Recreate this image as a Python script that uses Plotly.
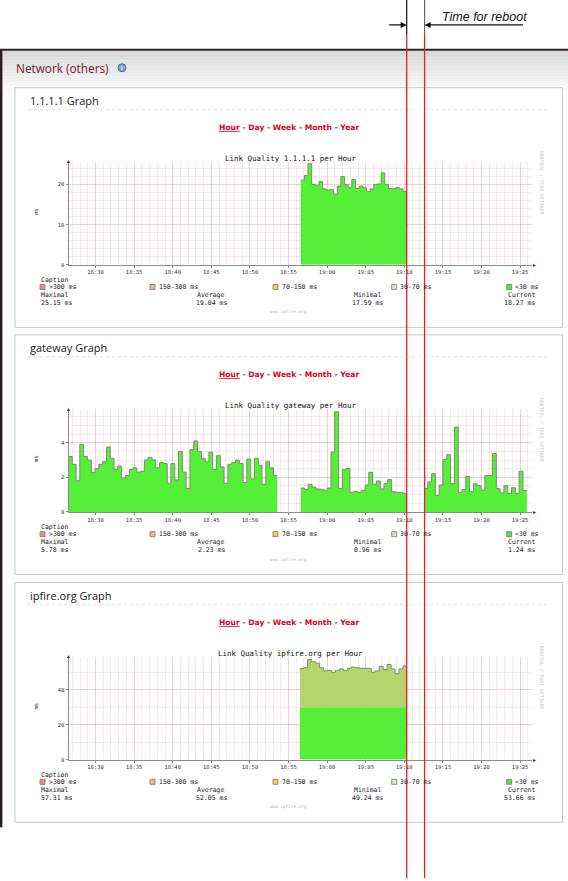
import plotly.graph_objects as go
import pandas as pd

W, H = 568, 881
DAY = "2024-01-01 "

# ---------------- data ----------------
hosts = ["1.1.1.1", "gateway", "ipfire.org"]
x_window = ["18:26:30", "19:26:30"]

# 1.1.1.1 (ms)
p1_span = ["18:56:35", "19:10:19"]
p1_values = [21.1, 22.2, 25.15, 20.0, 19.8, 20.7, 18.9, 18.6, 18.7, 17.59,
             19.6, 22.0, 20.0, 19.2, 21.2, 19.0, 19.6, 19.2, 18.2, 18.9,
             20.0, 20.1, 22.9, 20.0, 19.0, 18.9, 19.2, 18.9, 18.27]

# gateway (ms) - three segments separated by gaps
gw1_span = ["18:26:30", "18:53:33"]
gw1_values = [3.2, 2.75, 1.8, 3.9, 3.2, 3.0, 2.27, 2.5, 2.75, 2.9,
              3.75, 3.1, 2.45, 2.65, 1.95, 2.1, 2.45, 2.55, 2.3, 2.35,
              3.0, 3.15, 3.0, 2.55, 2.85, 2.8, 1.65, 2.8, 1.85, 3.5,
              2.3, 1.35, 3.6, 4.1, 3.5, 3.1, 2.9, 3.45, 2.45, 3.25,
              2.6, 1.65, 2.75, 2.85, 3.0, 2.8, 1.7, 3.05, 1.9, 3.1,
              2.7, 1.6, 2.9, 2.55, 2.1]
gw2_span = ["18:56:35", "19:10:19"]
gw2_values = [1.38, 1.29, 1.6, 1.44, 1.33, 1.31, 1.25, 1.38, 3.46, 5.78,
              1.35, 2.44, 2.52, 1.13, 1.19, 1.13, 1.25, 1.56, 2.29, 1.6,
              1.79, 1.33, 1.63, 1.87, 1.17, 1.13, 1.13, 1.08]
gw3_span = ["19:12:33", "19:25:52"]
gw3_values = [1.35, 1.73, 2.21, 0.96, 1.56, 3.02, 3.31, 1.63, 4.9, 1.13,
              1.29, 2.06, 1.17, 1.62, 1.52, 1.25, 2.1, 2.1, 3.37, 1.35,
              1.1, 1.52, 1.06, 1.4, 1.06, 2.35, 1.24]

# ipfire.org (ms)
ip_span = ["18:56:28", "19:10:21"]
ip_values = [52.1, 52.6, 57.31, 56.0, 55.3, 52.6, 50.8, 51.1, 50.0, 51.1,
             51.9, 51.1, 52.3, 53.0, 52.6, 52.3, 52.3, 52.3, 50.0, 50.8,
             53.4, 51.5, 54.5, 51.9, 49.24, 51.9, 53.66]
band_limit = 30  # "<30 ms" band

# statistics shown under each graph
max_vals = ["25.15", "5.78", "57.31"]
avg_vals = ["19.04", "2.23", "52.05"]
min_vals = ["17.59", "0.96", "49.24"]
cur_vals = ["18.27", "1.24", "53.66"]

# axis setup per graph
y_max = [25.6, 5.94, 58.9]
y_dtick = [10, 2, 20]
y_minor = [2, 0.5, 10]

legend_labels = [">300 ms", "150-300 ms", "70-150 ms", "30-70 ms", "<30 ms"]
legend_colors = ["#ee8f8f", "#f0b88c", "#f0d040", "#cdeebb", "#55e63a"]

# ---------------- styles ----------------
GREEN = "#55ee38"
OLIVE = "#b6d46c"
EDGE = "#7a8f6c"
MONO = "DejaVu Sans Mono"
SANS = "Open Sans"
RED = "#ee1c25"
PANEL_TOP = [88, 336, 584.5]
GRID_MAJOR = "rgba(235,130,130,0.40)"
GRID_MINOR = "rgba(235,170,170,0.25)"


def px(x):
    return x / W


def py(y):
    return 1 - y / H


def steps(span, vals):
    t0 = pd.Timestamp(DAY + span[0])
    t1 = pd.Timestamp(DAY + span[1])
    n = len(vals)
    xs = [t0 + (t1 - t0) * i / n for i in range(n + 1)]
    ys = list(vals) + [vals[-1]]
    return xs, ys


fig = go.Figure()
shapes = []
annotations = []


def ann(text, x, y, size, color="#222", xanchor="center", family=MONO,
        yanchor="middle", **kw):
    annotations.append(dict(text=text, x=px(x), y=py(y), xref="paper", yref="paper",
                            showarrow=False, xanchor=xanchor, yanchor=yanchor,
                            font=dict(size=size, color=color, family=family), **kw))


# ---------------- page chrome ----------------
n_str = 14
for i in range(n_str):
    y0 = 51 + i * 3.2
    g = int(216 + (255 - 216) * i / (n_str - 1))
    shapes.append(dict(type="rect", xref="paper", yref="paper", layer="below",
                       x0=0, x1=1, y0=py(y0), y1=py(y0 + 3.3),
                       fillcolor=f"rgb({g},{g},{g})", line=dict(width=0)))
shapes.append(dict(type="line", xref="paper", yref="paper", x0=0, x1=1,
                   y0=py(50), y1=py(50), line=dict(color="#2a2020", width=2)))
shapes.append(dict(type="line", xref="paper", yref="paper", x0=px(1.2), x1=px(1.2),
                   y0=py(50), y1=py(830), line=dict(color="#2a2020", width=2.4)))
ann("Network (others)", 14, 68, 11.8, "#6e1b2e", "left", SANS)
shapes.append(dict(type="circle", xref="paper", yref="paper",
                   x0=px(118), x1=px(126), y0=py(72), y1=py(64),
                   fillcolor="#7f9fd0", line=dict(color="#4d6ea5", width=1)))
ann("<b>i</b>", 122, 68, 6, "white", "center", SANS)

# ---------------- panels ----------------
x_dom = [px(68.5), px(531.7)]
sep = " <span style='color:#555'>-</span> "
for k, host in enumerate(hosts):
    T = PANEL_TOP[k]
    shapes.append(dict(type="rect", xref="paper", yref="paper", layer="below",
                       x0=px(15), x1=px(562.5), y0=py(T), y1=py(T + 240.5),
                       fillcolor="white", line=dict(color="#c8c8c8", width=1)))
    shapes.append(dict(type="line", xref="paper", yref="paper",
                       x0=px(28), x1=px(548), y0=py(T + 22), y1=py(T + 22),
                       line=dict(color="#e4e4e4", width=1, dash="dot")))
    ann(f"{host} Graph", 28, T + 13, 11, "#1a1a1a", "left", SANS)
    ann("<b><u>Hour</u>" + sep + "Day" + sep + "Week" + sep + "Month" + sep + "Year</b>",
        289, T + 40, 7.6, "#e0001b", "center", "DejaVu Sans")
    ann(f"Link Quality {host} per Hour", 290, T + 71, 7.5, "#111")
    ann("RRDTOOL / TOBI OETIKER", 541.5, T + 95, 4.8, "#c8c8c8", textangle=90)
    ann("ms", 36.5, T + 124, 5.5, "#333", textangle=-90)

    ann("Caption", 39, T + 193, 6.5, "#222", "left")
    lx = [40, 150, 273, 391.7, 506.7]
    for j, lab in enumerate(legend_labels):
        shapes.append(dict(type="rect", xref="paper", yref="paper",
                           x0=px(lx[j]), x1=px(lx[j] + 5), y0=py(T + 202.5), y1=py(T + 197.5),
                           fillcolor=legend_colors[j], line=dict(color="#777", width=0.8)))
        ann(lab, lx[j] + 6.5, T + 200, 6.5, "#222", "left")
    ann("Maximal", 39, T + 208, 6.5, "#222", "left")
    ann(f"{max_vals[k]} ms", 39, T + 216, 6.5, "#222", "left")
    ann("Average", 210.5, T + 208, 6.5, "#222", "center")
    ann(f"{avg_vals[k]} ms", 211, T + 216, 6.5, "#222", "center")
    ann("Minimal", 367, T + 208, 6.5, "#222", "center")
    ann(f"{min_vals[k]} ms", 367, T + 216, 6.5, "#222", "center")
    ann("Current", 537, T + 208, 6.5, "#222", "right")
    ann(f"{cur_vals[k]} ms", 537, T + 216, 6.5, "#222", "right")
    ann("www.ipfire.org", 288, T + 225, 4.3, "#b8b8b8", "center")

    sfx = "" if k == 0 else str(k + 1)
    y_dom = [py(T + 177.7), py(T + 74.5)]
    fig.layout[f"xaxis{sfx}"] = dict(
        domain=x_dom, anchor=f"y{sfx}", type="date",
        range=[DAY + x_window[0], DAY + x_window[1]],
        tick0=DAY + "18:30", dtick=300000, tickformat="%H:%M",
        showline=True, linecolor="#8c8c8c", linewidth=1,
        ticks="outside", ticklen=2, tickcolor="#888",
        tickfont=dict(size=5.5, family=MONO, color="#333"),
        showgrid=True, gridcolor=GRID_MAJOR, gridwidth=1,
        minor=dict(dtick=60000, tick0=DAY + "18:30", showgrid=True,
                   gridcolor=GRID_MINOR, gridwidth=1),
        zeroline=False, fixedrange=True)
    fig.layout[f"yaxis{sfx}"] = dict(
        domain=y_dom, anchor=f"x{sfx}", range=[0, y_max[k]],
        tick0=0, dtick=y_dtick[k],
        showline=True, linecolor="#8c8c8c", linewidth=1,
        ticks="outside", ticklen=2, tickcolor="#888",
        tickfont=dict(size=5.5, family=MONO, color="#333"),
        showgrid=True, gridcolor=GRID_MAJOR, gridwidth=1,
        minor=dict(dtick=y_minor[k], showgrid=True,
                   gridcolor=GRID_MINOR, gridwidth=1),
        zeroline=False, fixedrange=True)

    annotations.append(dict(text="▸", x=1.006, y=0, xref=f"x{sfx} domain", yref=f"y{sfx} domain",
                            showarrow=False, xanchor="center", yanchor="middle",
                            font=dict(size=6, color="#b00000", family="DejaVu Sans")))
    annotations.append(dict(text="▴", x=0, y=1.01, xref=f"x{sfx} domain", yref=f"y{sfx} domain",
                            showarrow=False, xanchor="center", yanchor="middle",
                            font=dict(size=6, color="#b00000", family="DejaVu Sans")))


def area(span, vals, axis_sfx, color, line_color=EDGE, fill="tozeroy", lw=1):
    xs, ys = steps(span, vals)
    fig.add_trace(go.Scatter(x=xs, y=ys, mode="lines", line_shape="hv",
                             line=dict(color=line_color, width=lw),
                             fill=fill, fillcolor=color, showlegend=False,
                             hoverinfo="skip", xaxis=f"x{axis_sfx}", yaxis=f"y{axis_sfx}"))


area(p1_span, p1_values, "", GREEN)
area(gw1_span, gw1_values, "2", GREEN)
area(gw2_span, gw2_values, "2", GREEN)
area(gw3_span, gw3_values, "2", GREEN)
area(ip_span, [min(v, band_limit) for v in ip_values], "3", GREEN, GREEN, lw=0)
area(ip_span, ip_values, "3", OLIVE, EDGE, fill="tonexty")

for xl, top_col in [(406.7, "#111111"), (424.6, "#666666")]:
    shapes.append(dict(type="line", xref="paper", yref="paper", x0=px(xl), x1=px(xl),
                       y0=py(0), y1=py(34), line=dict(color=top_col, width=1.2)))
    shapes.append(dict(type="line", xref="paper", yref="paper", x0=px(xl), x1=px(xl),
                       y0=py(34), y1=py(H), line=dict(color=RED, width=1.3)))
annotations.append(dict(text="", x=px(406.7), y=py(25), xref="paper", yref="paper",
                        showarrow=True, ax=-19, ay=0, arrowhead=2, arrowsize=1.1,
                        arrowwidth=1.1, arrowcolor="#111"))
annotations.append(dict(text="", x=px(424.6), y=py(25), xref="paper", yref="paper",
                        showarrow=True, ax=100, ay=0, arrowhead=2, arrowsize=1.1,
                        arrowwidth=1.1, arrowcolor="#111"))
ann("<i>Time for reboot</i>", 440, 17.5, 12.5, "#111", "left", "Liberation Sans")

fig.update_layout(width=W, height=H, margin=dict(l=0, r=0, t=0, b=0),
                  paper_bgcolor="white", plot_bgcolor="rgba(0,0,0,0)",
                  showlegend=False, shapes=shapes, annotations=annotations)

fig.write_html("out.html", config={"displayModeBar": False},
               post_script="document.body.style.margin='0';")
